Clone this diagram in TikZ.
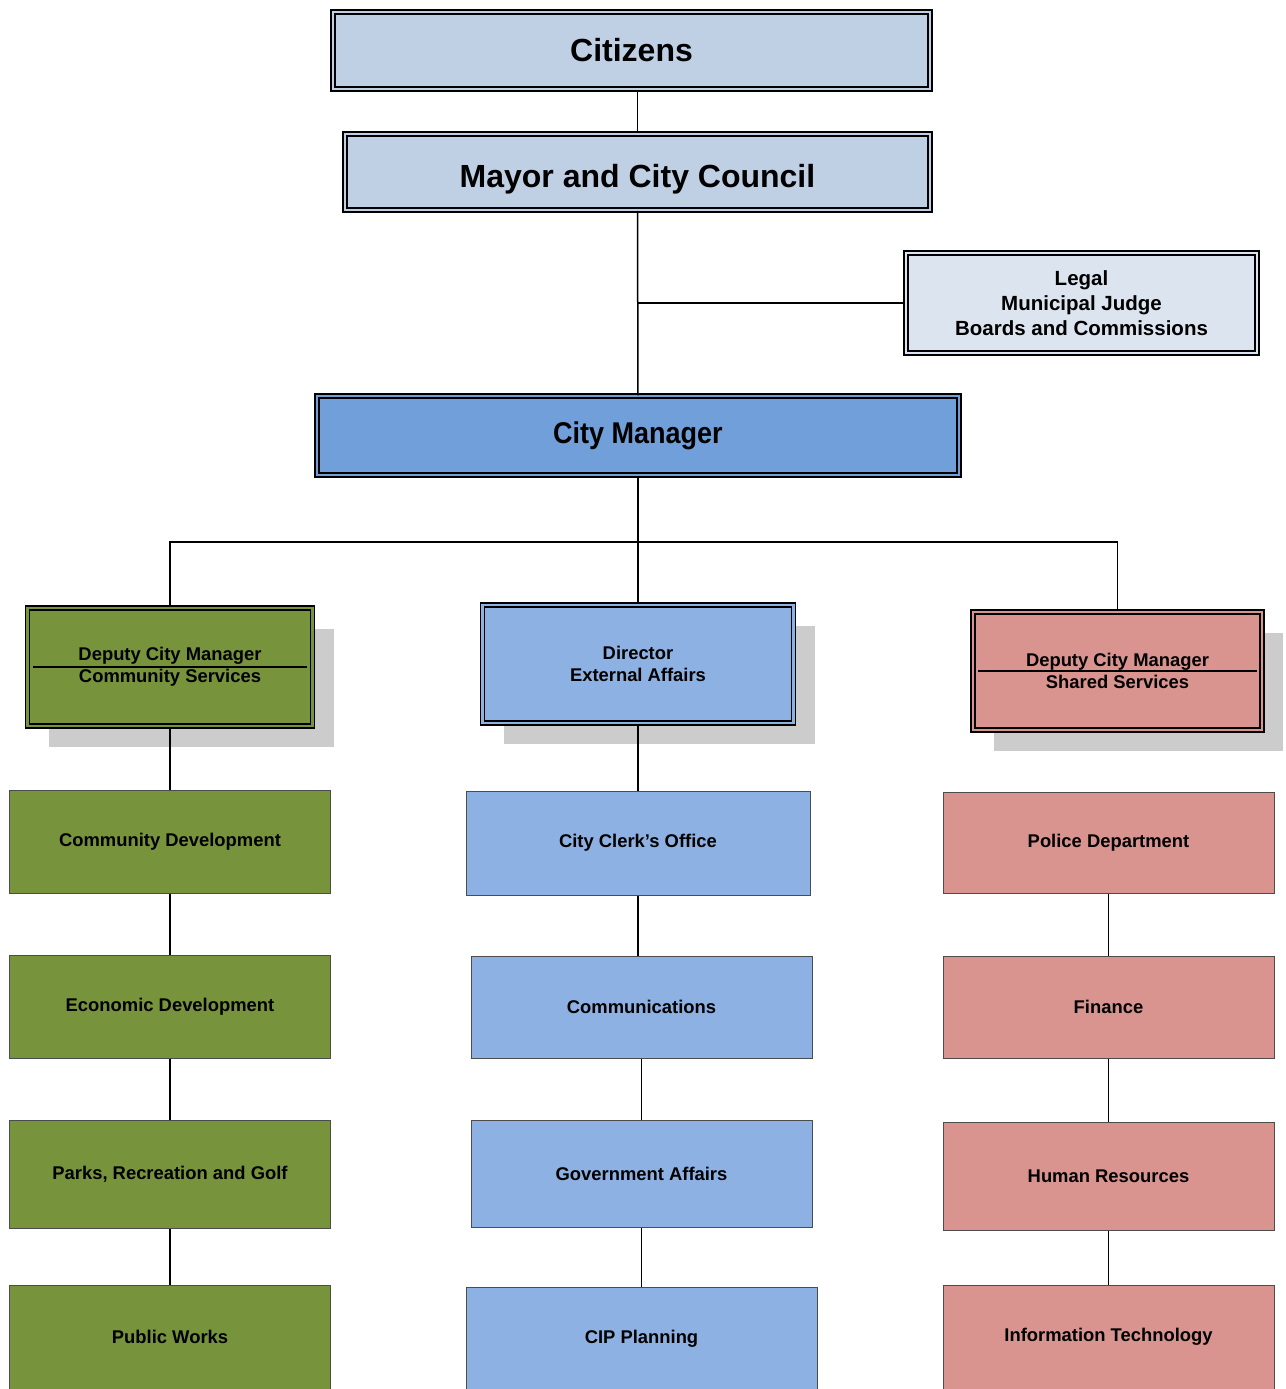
\documentclass[tikz,border=0pt]{standalone}
\usepackage{fontspec}
\setmainfont{Liberation Sans}
\newfontfamily\narrowsans{Liberation Sans}[FakeStretch=0.9]
\usetikzlibrary{shadows}
\usetikzlibrary{positioning}
\definecolor{paleblue}{HTML}{C0D0E4}
\definecolor{mistblue}{HTML}{DCE4EF}
\definecolor{mgrblue}{HTML}{719FDA}
\definecolor{deptblue}{HTML}{8DB1E2}
\definecolor{deptgreen}{HTML}{77933C}
\definecolor{deptpink}{HTML}{D9948F}
\definecolor{shadowgray}{HTML}{CCCCCC}
\begin{document}
\begin{tikzpicture}[x=0.5pt,y=-0.5pt,line width=0.75pt,
	headbox/.style={draw,line width=0.75pt,double=#1,double distance=1.4pt,fill=#1,align=center,inner sep=0pt},
	deptbox/.style={draw=black!70,line width=0.5pt,fill=#1,align=center,inner sep=0pt,font=\fontsize{9.2}{11}\selectfont\bfseries},
	shade/.style={drop shadow={shadow xshift=10.5pt,shadow yshift=-10.5pt,fill=shadowgray,opacity=1}}]
	\useasboundingbox (0,0) rectangle (1286,1389);
	% top of the chart
	\node [headbox=paleblue,minimum width=298.5pt,minimum height=38.5pt,font=\fontsize{16}{19}\selectfont\bfseries] (citizens) at (631.5,50.5) {Citizens};
	\node [headbox=paleblue,minimum width=292.5pt,minimum height=38pt,text height=15pt,text depth=0pt,font=\fontsize{16}{19}\selectfont\bfseries] (council) at (637.5,172) {Mayor and City Council};
	\node [headbox=mistblue,minimum width=175.5pt,minimum height=50pt,font=\fontsize{10.25}{12.5}\selectfont\bfseries] (legal) at (1081.5,303) {Legal\\Municipal Judge\\Boards and Commissions};
	\node [headbox=mgrblue,minimum width=321pt,minimum height=39.5pt,font=\narrowsans\fontsize{15}{18}\selectfont\bfseries] (manager) at (638,435.5) {City Manager};
	% deputies
	\node [headbox=deptgreen,shade,minimum width=142.5pt,minimum height=59pt,font=\fontsize{9.2}{11}\selectfont\bfseries] (dcmcs) at (170,667) {Deputy City Manager\\Community Services};
	\node [headbox=deptblue,shade,minimum width=155.5pt,minimum height=59pt,font=\fontsize{9.2}{11}\selectfont\bfseries] (director) at (638,664) {Director\\External Affairs};
	\node [headbox=deptpink,shade,minimum width=144.5pt,minimum height=59pt,font=\fontsize{9.2}{11}\selectfont\bfseries] (dcmss) at (1117.5,671) {Deputy City Manager\\Shared Services};
	\draw [line width=0.6pt] ([xshift=3pt]dcmcs.west) -- ([xshift=-3pt]dcmcs.east);
	\draw [line width=0.6pt] ([xshift=3pt]dcmss.west) -- ([xshift=-3pt]dcmss.east);
	% departments
	\node [deptbox=deptgreen,minimum width=160.5pt,minimum height=51.5pt] (cdev) at (170,841.5) {Community Development};
	\node [deptbox=deptgreen,minimum width=160.5pt,minimum height=51.5pt] (edev) at (170,1006.5) {Economic Development};
	\node [deptbox=deptgreen,minimum width=160.5pt,minimum height=54pt] (parks) at (170,1174) {Parks, Recreation and Golf};
	\node [deptbox=deptgreen,minimum width=160.5pt,minimum height=52pt] (works) at (170,1337) {Public Works};
	\node [deptbox=deptblue,minimum width=172pt,minimum height=52pt] (clerk) at (638,843) {City Clerk’s Office};
	\node [deptbox=deptblue,minimum width=170.5pt,minimum height=51pt] (comms) at (641.5,1007) {Communications};
	\node [deptbox=deptblue,minimum width=170.5pt,minimum height=53.5pt] (govaff) at (641.5,1173.5) {Government Affairs};
	\node [deptbox=deptblue,minimum width=175.5pt,minimum height=52pt] (cip) at (641.5,1339) {CIP Planning};
	\node [deptbox=deptpink,minimum width=165.5pt,minimum height=50.5pt] (police) at (1108.5,842.5) {Police Department};
	\node [deptbox=deptpink,minimum width=165.5pt,minimum height=51pt] (finance) at (1108.5,1007) {Finance};
	\node [deptbox=deptpink,minimum width=165.5pt,minimum height=54pt] (hr) at (1108.5,1176) {Human Resources};
	\node [deptbox=deptpink,minimum width=165.5pt,minimum height=52pt] (infotech) at (1108.5,1337) {Information Technology};
	% connectors
	\coordinate (bus) at (638,542);
	\draw (council.north) -- (council.north |- citizens.south);
	\draw (council.south) -- (manager.north);
	\draw (legal.west) -- (legal.west -| council.south);
	\draw (manager.south) -- (bus);
	\draw (bus) -- (director.north);
	\draw (dcmcs.north) |- (bus) -| (dcmss.north);
	\draw (dcmcs.south) -- (cdev.north);
	\draw (director.south) -- (clerk.north);
	\draw (clerk.south) -- (clerk.south |- comms.north);
	\foreach \a/\b in {cdev/edev,edev/parks,parks/works,comms/govaff,govaff/cip,police/finance,finance/hr,hr/infotech}
		\draw (\a.south) -- (\b.north);
\end{tikzpicture}
\end{document}
